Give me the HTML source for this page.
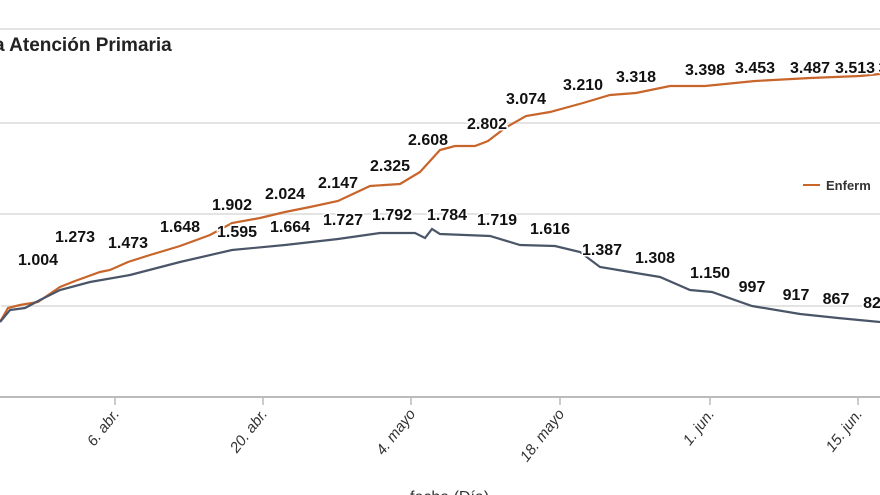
<!DOCTYPE html>
<html><head><meta charset="utf-8"><style>
html,body{margin:0;padding:0;background:#fff;width:880px;height:495px;overflow:hidden}
</style></head><body>
<svg width="880" height="495" viewBox="0 0 880 495" xmlns="http://www.w3.org/2000/svg" font-family="Liberation Sans, DejaVu Sans, sans-serif">
<g stroke="#e3e3e3" stroke-width="2">
<line x1="0" y1="29" x2="880" y2="29"/><line x1="0" y1="123" x2="880" y2="123"/>
<line x1="0" y1="214" x2="880" y2="214"/><line x1="0" y1="306" x2="880" y2="306"/>
</g>
<line x1="0" y1="397" x2="880" y2="397" stroke="#bbb" stroke-width="2"/>
<g stroke="#bbb" stroke-width="1.5">
<line x1="115" y1="397" x2="115" y2="405"/><line x1="263" y1="397" x2="263" y2="405"/>
<line x1="411" y1="397" x2="411" y2="405"/><line x1="560" y1="397" x2="560" y2="405"/>
<line x1="710" y1="397" x2="710" y2="405"/><line x1="858" y1="397" x2="858" y2="405"/>
</g>
<g font-size="15" font-style="italic" fill="#333" text-anchor="end">
<text transform="translate(120,414) rotate(-52)">6. abr.</text>
<text transform="translate(268,414) rotate(-52)">20. abr.</text>
<text transform="translate(416,414) rotate(-52)">4. mayo</text>
<text transform="translate(565,414) rotate(-52)">18. mayo</text>
<text transform="translate(715,414) rotate(-52)">1. jun.</text>
<text transform="translate(863,414) rotate(-52)">15. jun.</text>
</g>
<text x="410" y="502" font-size="16" fill="#333">fecha (Día)</text>
<text x="-6" y="51" font-size="19" font-weight="bold" fill="#222">a Atención Primaria</text>
<line x1="803" y1="185" x2="820" y2="185" stroke="#c8652a" stroke-width="2"/>
<text x="826" y="190" font-size="13" font-weight="bold" fill="#333">Enferm</text>
<polyline fill="none" stroke="#c8652a" stroke-width="2.2" points="0,322 8,308 20,305 38,302 60,287 75,281 100,272 110,270 128,262 150,255 180,246 210,235 232,223 260,218 285,212 310,207 338,201 370,186 400,184 420,172 440,150 455,146 475,146 488,141 505,128 526,116 550,112 583,103 610,95 636,93 670,86 705,86 755,81 810,78 860,76 880,74"/>
<polyline fill="none" stroke="#4a5568" stroke-width="2.2" points="0,322 10,310 25,308 40,300 60,290 90,282 130,275 180,262 232,250 285,245 338,239 380,233 415,233 425,238 432,229 440,234 490,236 520,245 555,246 580,252 600,267 630,272 660,277 690,290 712,292 752,306 800,314 838,318 880,322"/>
<g font-size="16" font-weight="bold" fill="#111" text-anchor="middle" stroke="#fff" stroke-width="3" paint-order="stroke">
<text x="-4" y="312">5</text>
<text x="38" y="265">1.004</text><text x="75" y="242">1.273</text><text x="128" y="248">1.473</text>
<text x="180" y="232">1.648</text><text x="232" y="210">1.902</text><text x="285" y="199">2.024</text>
<text x="338" y="188">2.147</text><text x="390" y="171">2.325</text><text x="428" y="145">2.608</text>
<text x="487" y="129">2.802</text><text x="526" y="104">3.074</text><text x="583" y="90">3.210</text>
<text x="636" y="82">3.318</text><text x="705" y="75">3.398</text><text x="755" y="73">3.453</text>
<text x="810" y="73">3.487</text><text x="855" y="73">3.513</text><text x="883" y="73">3</text>
<text x="237" y="237">1.595</text><text x="290" y="232">1.664</text><text x="343" y="225">1.727</text>
<text x="392" y="220">1.792</text><text x="447" y="220">1.784</text><text x="497" y="225">1.719</text>
<text x="550" y="234">1.616</text><text x="602" y="255">1.387</text><text x="655" y="263">1.308</text>
<text x="710" y="278">1.150</text><text x="752" y="292">997</text><text x="796" y="300">917</text>
<text x="836" y="304">867</text><text x="872" y="308">82</text>
</g>
</svg>
</body></html>
